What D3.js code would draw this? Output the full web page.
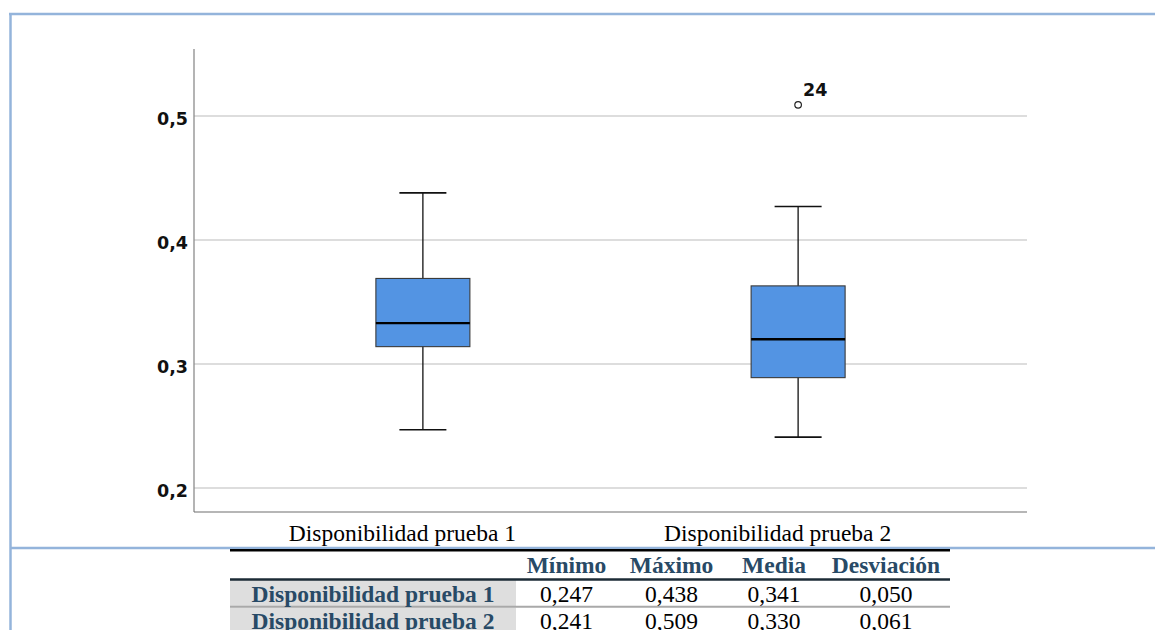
<!DOCTYPE html>
<html>
<head>
<meta charset="utf-8">
<script src="https://cdn.jsdelivr.net/npm/d3@7"></script>
<style>
  html, body { margin: 0; padding: 0; background: #fff; overflow: hidden; }
  svg { display: block; }
</style>
</head>
<body>
<script>
// Box plot data: one entry per test
const categories = ["Disponibilidad prueba 1", "Disponibilidad prueba 2"];
const whiskerLow  = [0.247, 0.241];
const q1          = [0.314, 0.289];
const median      = [0.333, 0.320];
const q3          = [0.369, 0.363];
const whiskerHigh = [0.438, 0.427];
const outlierCategory = ["Disponibilidad prueba 2"];
const outlierValue    = [0.509];
const outlierLabel    = ["24"];
const yTicks = [0.2, 0.3, 0.4, 0.5];

// Summary table
const tableHeaders = ["Mínimo", "Máximo", "Media", "Desviación"];
const minimo     = ["0,247", "0,241"];
const maximo     = ["0,438", "0,509"];
const media      = ["0,341", "0,330"];
const desviacion = ["0,050", "0,061"];

const W = 1155, H = 630;
const svg = d3.select("body").append("svg").attr("width", W).attr("height", H);

const frameColor = "#94b4db";
const headColor = "#284a66";
const serif = "'Liberation Serif', 'Times New Roman', serif";
const sans = "'DejaVu Sans', Verdana, sans-serif";

// Scales
const y = d3.scaleLinear().domain([0.18065, 0.55403]).range([512, 49]);
const x = d3.scalePoint().domain(categories).range([194, 1027]).padding(0.61);
const boxW = 94, capW = 47;

// Gridlines
svg.append("g")
  .selectAll("line").data(yTicks).join("line")
  .attr("x1", 194).attr("x2", 1027)
  .attr("y1", d => y(d)).attr("y2", d => y(d))
  .attr("stroke", "#d2d2d2").attr("stroke-width", 1.5);

// Y axis (labels only, line drawn separately)
const yAxis = svg.append("g").attr("transform", "translate(194,0)")
  .call(d3.axisLeft(y).tickValues(yTicks).tickSize(0).tickPadding(6)
    .tickFormat(d => d3.format(".1f")(d).replace(".", ",")));
yAxis.select(".domain").remove();
yAxis.selectAll("text")
  .attr("font-family", sans).attr("font-weight", "bold")
  .attr("font-size", 17.5).attr("fill", "#111").attr("dy", "0.46em");

// Axis lines
svg.append("line").attr("x1", 194).attr("x2", 194).attr("y1", y.range()[1]).attr("y2", y.range()[0])
  .attr("stroke", "#8c8c8c").attr("stroke-width", 1.3);
svg.append("line").attr("x1", 194).attr("x2", 1027).attr("y1", 512).attr("y2", 512)
  .attr("stroke", "#6e6e6e").attr("stroke-width", 1.2);

// Category labels
const xAxis = svg.append("g").attr("transform", "translate(0,512)")
  .call(d3.axisBottom(x).tickSize(0).tickPadding(0));
xAxis.select(".domain").remove();
xAxis.selectAll("text")
  .attr("font-family", serif).attr("font-size", 23.5).attr("fill", "#000")
  .attr("dx", -21).attr("y", 29).attr("dy", 0);

// Boxes
const idx = d3.range(categories.length);
const g = svg.append("g");
// whiskers
g.selectAll(".whisker").data(idx).join("line")
  .attr("x1", i => x(categories[i])).attr("x2", i => x(categories[i]))
  .attr("y1", i => y(whiskerLow[i])).attr("y2", i => y(whiskerHigh[i]))
  .attr("stroke", "#111").attr("stroke-width", 1.3);
g.selectAll(".capHi").data(idx).join("line")
  .attr("x1", i => x(categories[i]) - capW / 2).attr("x2", i => x(categories[i]) + capW / 2)
  .attr("y1", i => y(whiskerHigh[i])).attr("y2", i => y(whiskerHigh[i]))
  .attr("stroke", "#111").attr("stroke-width", 1.6);
g.selectAll(".capLo").data(idx).join("line")
  .attr("x1", i => x(categories[i]) - capW / 2).attr("x2", i => x(categories[i]) + capW / 2)
  .attr("y1", i => y(whiskerLow[i])).attr("y2", i => y(whiskerLow[i]))
  .attr("stroke", "#111").attr("stroke-width", 1.6);
// box body
g.selectAll("rect").data(idx).join("rect")
  .attr("x", i => x(categories[i]) - boxW / 2).attr("width", boxW)
  .attr("y", i => y(q3[i])).attr("height", i => y(q1[i]) - y(q3[i]))
  .attr("fill", "#5394e3").attr("stroke", "#3a3a3a").attr("stroke-width", 1.1);
// median
g.selectAll(".median").data(idx).join("line")
  .attr("x1", i => x(categories[i]) - boxW / 2).attr("x2", i => x(categories[i]) + boxW / 2)
  .attr("y1", i => y(median[i])).attr("y2", i => y(median[i]))
  .attr("stroke", "#000").attr("stroke-width", 2.4);

// Outliers
const oIdx = d3.range(outlierValue.length);
g.selectAll(".outlier").data(oIdx).join("circle")
  .attr("cx", i => x(outlierCategory[i])).attr("cy", i => y(outlierValue[i])).attr("r", 3.3)
  .attr("fill", "#fff").attr("stroke", "#222").attr("stroke-width", 1.2);
g.selectAll(".outlierLabel").data(oIdx).join("text")
  .attr("x", i => x(outlierCategory[i]) + 5).attr("y", i => y(outlierValue[i]) - 8.5)
  .attr("font-family", sans).attr("font-weight", "bold").attr("font-size", 17.5).attr("fill", "#111")
  .text(i => outlierLabel[i]);

// Frame lines
svg.append("line").attr("x1", 9).attr("x2", W).attr("y1", 14).attr("y2", 14)
  .attr("stroke", frameColor).attr("stroke-width", 2.5);
svg.append("line").attr("x1", 10.5).attr("x2", 10.5).attr("y1", 13).attr("y2", H)
  .attr("stroke", frameColor).attr("stroke-width", 2.5);
svg.append("line").attr("x1", 10).attr("x2", W).attr("y1", 548).attr("y2", 548)
  .attr("stroke", frameColor).attr("stroke-width", 2.3);

// Summary table
const colEdges = [230, 516, 617, 726, 822, 950];
const colCenter = i => (colEdges[i] + colEdges[i + 1]) / 2;
const rows = [
  [minimo[0], maximo[0], media[0], desviacion[0]],
  [minimo[1], maximo[1], media[1], desviacion[1]]
];
const rowTop = [580, 607.5];
const rowH = 26;
const t = svg.append("g");

// row label cells
t.selectAll(".rowbg").data(categories).join("rect")
  .attr("x", colEdges[0]).attr("width", colEdges[1] - colEdges[0])
  .attr("y", (d, i) => rowTop[i]).attr("height", rowH)
  .attr("fill", "#dedede");

t.append("line").attr("x1", colEdges[0]).attr("x2", colEdges[5]).attr("y1", 550.3).attr("y2", 550.3)
  .attr("stroke", "#000").attr("stroke-width", 2.4);
t.append("line").attr("x1", colEdges[0]).attr("x2", colEdges[5]).attr("y1", 579.5).attr("y2", 579.5)
  .attr("stroke", "#1c2b36").attr("stroke-width", 2.4);
t.append("line").attr("x1", colEdges[0]).attr("x2", colEdges[5]).attr("y1", 606.7).attr("y2", 606.7)
  .attr("stroke", "#a9a9a9").attr("stroke-width", 2);

t.selectAll(".head").data(tableHeaders).join("text")
  .attr("x", (d, i) => colCenter(i + 1)).attr("y", 572.5)
  .attr("text-anchor", "middle").attr("font-family", serif).attr("font-weight", "bold")
  .attr("font-size", 23.5).attr("fill", headColor).text(d => d);

t.selectAll(".rowlab").data(categories).join("text")
  .attr("x", colCenter(0)).attr("y", (d, i) => rowTop[i] + 21.5)
  .attr("text-anchor", "middle").attr("font-family", serif).attr("font-weight", "bold")
  .attr("font-size", 23.5).attr("fill", headColor).text(d => d);

rows.forEach((r, ri) => {
  t.selectAll(".cell" + ri).data(r).join("text")
    .attr("x", (d, i) => colCenter(i + 1)).attr("y", rowTop[ri] + 21.5)
    .attr("text-anchor", "middle").attr("font-family", serif)
    .attr("font-size", 23.5).attr("fill", "#000").text(d => d);
});
</script>
</body>
</html>
